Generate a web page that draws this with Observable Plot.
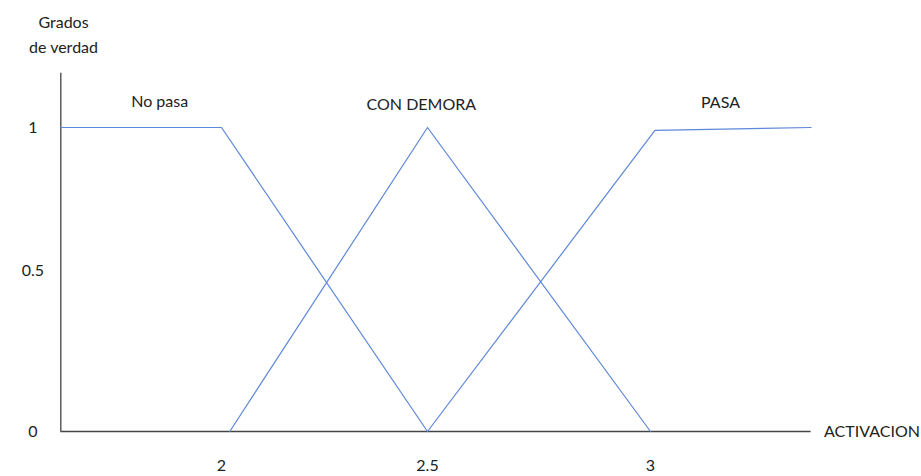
<!DOCTYPE html>
<html><head><meta charset="utf-8">
<script src="https://cdn.jsdelivr.net/npm/d3@7"></script>
<script src="https://cdn.jsdelivr.net/npm/@observablehq/plot@0.6"></script>
<style>body{margin:0;background:#fff}</style>
</head><body><div id="chart"></div>
<script>
// Membership functions (ACTIVACION -> grado de verdad)
const noPasaX = [1.61, 2, 2.5];
const noPasaY = [1, 1, 0];
const conDemoraX = [2.02, 2.5, 3.0];
const conDemoraY = [0, 1, 0];
const pasaX = [2.5, 3.01, 3.36];
const pasaY = [0, 0.99, 1];

// Set labels and their positions
const setNames = ["No pasa", "CON DEMORA", "PASA"];
const setLabelX = [1.85, 2.485, 3.157];
const setLabelY = [1.09, 1.08, 1.085];

// Axis ticks
const xTicks = [2, 2.5, 3];
const xTickLabels = ["2", "2.5", "3"];
const yTicks = [0, 0.5, 1];
const yTickLabels = ["0", "0.5", "1"];
const axisXStart = 1.61, axisXEnd = 3.36, axisYTop = 1.19;
const xTitle = "ACTIVACION";
const yTitle = ["Grados", "de verdad"];

const series = [
  ...noPasaX.map((x, i) => ({serie: setNames[0], x, y: noPasaY[i]})),
  ...conDemoraX.map((x, i) => ({serie: setNames[1], x, y: conDemoraY[i]})),
  ...pasaX.map((x, i) => ({serie: setNames[2], x, y: pasaY[i]}))
];
const labels = setNames.map((t, i) => ({t, x: setLabelX[i], y: setLabelY[i]}));
const xt = xTicks.map((x, i) => ({x, t: xTickLabels[i]}));
const yt = yTicks.map((y, i) => ({y, t: yTickLabels[i]}));

const chart = Plot.plot({
  width: 921, height: 476,
  margin: 0,
  style: {fontFamily: "Lato, 'Open Sans', sans-serif", fontSize: "16px", background: "#fff", color: "#222"},
  x: {type: "linear", domain: [2, 2.5, 3], range: [221, 427, 650], axis: null},
  y: {type: "linear", domain: [0, 0.5, 1], range: [431, 270, 127], axis: null},
  marks: [
    Plot.ruleX([axisXStart], {y1: 0, y2: axisYTop, stroke: "#333", strokeWidth: 1.2}),
    Plot.ruleY([0], {x1: axisXStart, x2: axisXEnd, stroke: "#444", strokeWidth: 1.3}),
    Plot.line(series, {x: "x", y: "y", z: "serie", stroke: "#5d87d8", strokeWidth: 1.2}),
    Plot.text(labels, {x: "x", y: "y", text: "t", fontSize: 16, fill: "#222"}),
    Plot.text(xt, {x: "x", y: () => 0, text: "t", dy: 34, fontSize: 16, fill: "#222"}),
    Plot.text(yt, {x: () => axisXStart, y: "y", text: "t", dx: -28, fontSize: 16, fill: "#222"}),
    Plot.text([xTitle], {x: () => axisXEnd, y: () => 0, text: d => d, dx: 13, textAnchor: "start", fontSize: 16, fill: "#222"}),
    Plot.text([yTitle.join("\n")], {frameAnchor: "top-left", text: d => d, dx: 63, dy: 10, textAnchor: "middle", lineHeight: 1.55, fontSize: 16, fill: "#222"})
  ]
});
document.getElementById("chart").append(chart);
</script>
</body></html>
